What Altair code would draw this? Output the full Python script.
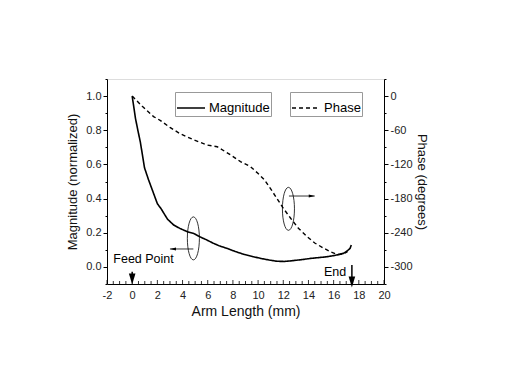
import altair as alt
import pandas as pd
import numpy as np

# ---- data ----
arm_mag = [0, 0.1, 0.26, 0.45, 0.65, 0.98, 1.3, 1.6, 2.0, 2.3, 2.8, 3.3, 3.8, 4.35, 4.9,
           5.5, 5.95, 6.4, 6.9, 7.55, 8.2, 8.9, 9.6, 10.2, 10.9, 11.5, 12.1, 12.8, 13.5,
           14.2, 14.9, 15.5, 16.0, 16.4, 16.8, 17.1, 17.3, 17.4]
magnitude = [1.0, 0.95, 0.87, 0.80, 0.73, 0.58, 0.51, 0.45, 0.37, 0.34, 0.28, 0.245, 0.225,
             0.207, 0.195, 0.172, 0.157, 0.14, 0.124, 0.108, 0.09, 0.073, 0.06, 0.05, 0.04,
             0.033, 0.032, 0.037, 0.043, 0.05, 0.055, 0.06, 0.066, 0.072, 0.08, 0.095, 0.108, 0.128]

arm_phase = [0, 0.8, 1.7, 2.25, 3.0, 3.8, 4.8, 5.95, 6.75, 7.8, 8.6, 9.4, 10.0, 10.5, 11.0,
             11.5, 12.0, 12.6, 13.2, 13.9, 14.5, 15.2, 15.8, 16.3, 16.8, 17.1]
phase = [0, -18, -36, -43, -55, -66, -76, -86, -89, -103, -115, -124, -136, -147, -163,
         -180, -197, -215, -232, -247, -258, -267, -274, -278, -277, -273]

x_labels = list(range(-2, 21, 2))
x_minor = [float(v) for v in np.arange(-2, 20.01, 0.5)]
mag_ticks = [round(-0.1 + 0.1 * i, 1) for i in range(13)]
phase_ticks = list(range(30, -331, -30))

# annotations (data coordinates)
ellipse_x = [4.86, 12.41]
ellipse_y = [0.167, 0.34]
harrow_x = [4.86, 12.45]
harrow_x2 = [3.0, 14.5]
harrow_y = [0.105, 0.415]
label_text = ["Feed Point", "End"]
label_x = [-1.5, 17.0]
label_y = [0.046, -0.03]
label_align = ["left", "right"]
varrow_x = [0.0, 17.45]
varrow_top = [-0.028, 0.011]
varrow_head = [-0.071, -0.088]

W, H = 277, 205
FONT = "Liberation Sans"

xscale = alt.Scale(domain=[-2, 20], nice=False, zero=False)
ymag = alt.Scale(domain=[-0.1, 1.1], nice=False, zero=False)
yph = alt.Scale(domain=[-330, 30], nice=False, zero=False)

xaxis = alt.Axis(values=x_labels, title="Arm Length (mm)", ticks=False, grid=False,
                 labelExpr="'' + datum.value",
                 labelFontSize=11, titleFontSize=14, labelPadding=5, titlePadding=4,
                 labelFlush=False, labelColor="#222", titleColor="#111",
                 domainColor="black", titleFontWeight="normal")

yaxis_mag = alt.Axis(values=mag_ticks, title="Magnitude (normalized)", grid=False,
                     labelExpr="(round(datum.value*10) % 2 == 0 && datum.value >= 0 && datum.value <= 1) ? format(datum.value, '.1f') : ''",
                     tickSize={"condition": {"test": "round(datum.value*10) % 2 == 0", "value": 4}, "value": 2},
                     labelFontSize=11, titleFontSize=13, labelPadding=2, titlePadding=6,
                     labelOverlap=False, labelFlush=False, labelColor="#222", titleColor="#111",
                     domainColor="black", tickColor="black", titleFontWeight="normal")

yaxis_ph = alt.Axis(values=phase_ticks, title="Phase (degrees)", orient="right", grid=False,
                    labelExpr="(datum.value % 60 == 0 && datum.value <= 0 && datum.value >= -300) ? ('' + datum.value) : ''",
                    tickSize={"condition": {"test": "datum.value % 60 == 0", "value": 4}, "value": 2},
                    labelFontSize=11, titleFontSize=13, labelPadding=2, titlePadding=2,
                    titleAngle=90, labelOverlap=False, labelFlush=False, labelColor="#222",
                    titleColor="#111", domainColor="black", tickColor="black",
                    titleFontWeight="normal")

mag_df = pd.DataFrame({"x": arm_mag, "y": magnitude, "series": "Magnitude"})
ph_df = pd.DataFrame({"x": arm_phase, "y": phase, "series": "Phase"})

def leg(x):
    return alt.Legend(title=None, orient="none", legendX=x, legendY=13, symbolType="stroke",
                      symbolSize=784, symbolStrokeWidth=1.6, symbolStrokeColor="black",
                      labelFontSize=13, labelColor="black", labelOffset=3, labelFont=FONT,
                      strokeColor="#999", padding=1)

mag_line = alt.Chart(mag_df).mark_line(color="black", strokeWidth=1.6).encode(
    x=alt.X("x:Q", scale=xscale, axis=xaxis),
    y=alt.Y("y:Q", scale=ymag, axis=yaxis_mag),
    strokeDash=alt.StrokeDash("series:N", scale=alt.Scale(domain=["Magnitude"], range=[[1, 0]]),
                              legend=leg(68)),
)

ph_line = alt.Chart(ph_df).mark_line(color="black", strokeWidth=1.4).encode(
    x=alt.X("x:Q", scale=xscale, axis=xaxis),
    y=alt.Y("y:Q", scale=yph, axis=yaxis_ph),
    strokeDash=alt.StrokeDash("series:N", scale=alt.Scale(domain=["Phase"], range=[[4, 3]]),
                              legend=leg(183)),
)

# inward minor ticks on the bottom axis
tick_df = pd.DataFrame({"x": x_minor, "major": [abs(v % 2) < 1e-9 for v in x_minor]})
minor_ticks = alt.Chart(tick_df).transform_filter("!datum.major").mark_rule(color="black", strokeWidth=0.8).encode(
    x=alt.X("x:Q", scale=xscale, axis=xaxis), y=alt.value(H), y2=alt.value(H - 3))
major_ticks = alt.Chart(tick_df).transform_filter("datum.major").mark_rule(color="black", strokeWidth=0.8).encode(
    x=alt.X("x:Q", scale=xscale, axis=xaxis), y=alt.value(H), y2=alt.value(H - 4))

ell_df = pd.DataFrame({"x": ellipse_x, "y": ellipse_y})
ellipses = alt.Chart(ell_df).mark_point(
    shape="M0,-1A0.28,1,0,1,1,0,1A0.28,1,0,1,1,0,-1Z", filled=False, size=1849,
    stroke="black", strokeWidth=0.8, opacity=1).encode(
    x=alt.X("x:Q", scale=xscale, axis=xaxis), y=alt.Y("y:Q", scale=ymag, axis=yaxis_mag))

ha_df = pd.DataFrame({"x": harrow_x, "x2": harrow_x2, "y": harrow_y, "dir": ["left", "right"]})
ha_shaft = alt.Chart(ha_df).mark_rule(color="black", strokeWidth=0.8).encode(
    x=alt.X("x:Q", scale=xscale, axis=xaxis), x2="x2:Q",
    y=alt.Y("y:Q", scale=ymag, axis=yaxis_mag))
ha_left = alt.Chart(ha_df).transform_filter("datum.dir == 'left'").transform_calculate(
    hx="datum.x2 + 0.24").mark_point(shape="M1,-0.5L1,0.5L-1,0Z", filled=True, size=36,
                                     color="black", opacity=1).encode(
    x=alt.X("hx:Q", scale=xscale, axis=xaxis), y=alt.Y("y:Q", scale=ymag, axis=yaxis_mag))
ha_right = alt.Chart(ha_df).transform_filter("datum.dir == 'right'").transform_calculate(
    hx="datum.x2 - 0.24").mark_point(shape="M-1,-0.5L-1,0.5L1,0Z", filled=True, size=36,
                                      color="black", opacity=1).encode(
    x=alt.X("hx:Q", scale=xscale, axis=xaxis), y=alt.Y("y:Q", scale=ymag, axis=yaxis_mag))

va_df = pd.DataFrame({"x": varrow_x, "y": varrow_top, "yh": varrow_head})
va_shaft = alt.Chart(va_df).mark_rule(color="black", strokeWidth=1.5).encode(
    x=alt.X("x:Q", scale=xscale, axis=xaxis),
    y=alt.Y("y:Q", scale=ymag, axis=yaxis_mag), y2="yh:Q")
va_head = alt.Chart(va_df).mark_point(shape="M-0.6,-1L0.6,-1L0,1Z", filled=True, size=121,
                                      color="black", opacity=1).encode(
    x=alt.X("x:Q", scale=xscale, axis=xaxis), y=alt.Y("yh:Q", scale=ymag, axis=yaxis_mag))

lab_df = pd.DataFrame({"x": label_x, "y": label_y, "t": label_text, "a": label_align})
lab_left = alt.Chart(lab_df).transform_filter("datum.a == 'left'").mark_text(
    align="left", baseline="middle", fontSize=12.5, font=FONT, color="black").encode(
    x=alt.X("x:Q", scale=xscale, axis=xaxis), y=alt.Y("y:Q", scale=ymag, axis=yaxis_mag), text="t:N")
lab_right = alt.Chart(lab_df).transform_filter("datum.a == 'right'").mark_text(
    align="right", baseline="middle", fontSize=12.5, font=FONT, color="black").encode(
    x=alt.X("x:Q", scale=xscale, axis=xaxis), y=alt.Y("y:Q", scale=ymag, axis=yaxis_mag), text="t:N")

left_group = alt.layer(mag_line, minor_ticks, major_ticks, ellipses, ha_shaft, ha_left, ha_right,
                       va_shaft, va_head, lab_left, lab_right)

chart = alt.layer(left_group, ph_line).resolve_scale(
    y="independent", strokeDash="independent"
).resolve_legend(strokeDash="independent").properties(
    width=W, height=H,
    autosize=alt.AutoSizeParams(type="none"),
    padding={"left": 99, "top": 71, "right": 110, "bottom": 80},
    background="white",
).configure_view(stroke="black", strokeWidth=1).configure(font=FONT)

chart.save("out.html", embed_options={"renderer": "svg", "actions": False})
